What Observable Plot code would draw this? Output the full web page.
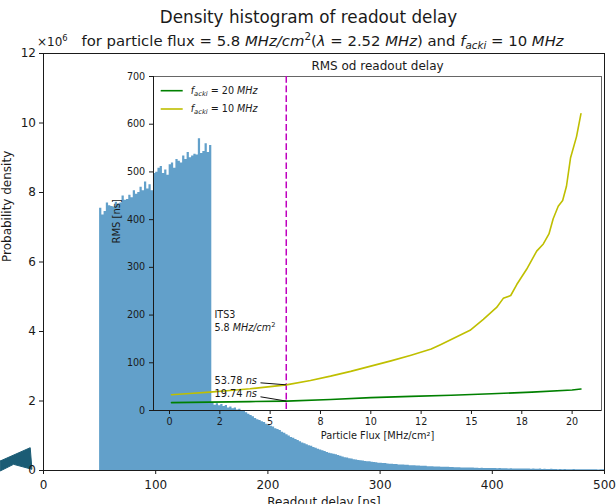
<!DOCTYPE html>
<html><head><meta charset="utf-8">
<script src="https://cdn.jsdelivr.net/npm/d3@7"></script>
<script src="https://cdn.jsdelivr.net/npm/@observablehq/plot@0.6"></script>
<style>
html,body{margin:0;padding:0;background:#fff;}
#chart{position:relative;width:616px;height:504px;overflow:hidden;font-family:"DejaVu Sans",sans-serif;}
#chart svg{position:absolute;left:0;top:0;}
</style></head><body><div id="chart"></div>
<script>
// ---------- main histogram data ----------
const binStartNs = 50;
const binWidthNs = 2;
// probability density per 2 ns bin, in units of 1e6
const densityE6 = [
 7.55, 7.35, 7.45, 7.70, 7.62, 7.60, 7.58, 7.72, 7.66, 7.70,
 7.90, 7.78, 7.80, 7.92, 7.85, 8.05, 7.95, 8.00, 8.15, 8.05,
 8.30, 8.10, 8.22, 8.05, 8.55, 8.58, 8.70, 8.75, 8.55, 8.65,
 8.50, 8.80, 8.85, 8.70, 8.95, 8.90, 8.85, 9.05, 8.95, 9.15,
 9.00, 9.05, 9.10, 9.08, 9.55, 9.12, 9.18, 9.40, 9.15, 9.35,
 1.95, 1.88, 1.92, 1.86, 1.90, 1.84, 1.87, 1.80, 1.83, 1.78,
 1.80, 1.74, 1.76, 1.70, 1.72, 1.66, 1.62, 1.58, 1.55, 1.50,
 1.46, 1.44, 1.40, 1.38, 1.33, 1.30, 1.27, 1.25, 1.20, 1.18,
 1.15, 1.10, 1.07, 1.03, 0.99, 0.95, 0.93, 0.89, 0.86, 0.83,
 0.79, 0.77, 0.74, 0.71, 0.70, 0.66, 0.64, 0.61, 0.59, 0.57,
 0.55, 0.52, 0.50, 0.48, 0.47, 0.45, 0.43, 0.41, 0.39, 0.37,
 0.36, 0.34, 0.33, 0.31, 0.30, 0.29, 0.28, 0.27, 0.26, 0.25,
 0.25, 0.24, 0.23, 0.22, 0.21, 0.21, 0.20, 0.20, 0.19, 0.18,
 0.18, 0.17, 0.17, 0.16, 0.16, 0.16, 0.15, 0.15, 0.14, 0.14,
 0.14, 0.13, 0.13, 0.12, 0.12, 0.12, 0.11, 0.11, 0.11, 0.10,
 0.10, 0.10, 0.095, 0.09, 0.09, 0.09, 0.085, 0.085, 0.08, 0.08,
 0.08, 0.075, 0.075, 0.07, 0.07, 0.075, 0.07, 0.065, 0.065, 0.06,
 0.065, 0.06, 0.06, 0.055, 0.06, 0.06, 0.055, 0.05, 0.055, 0.05,
 0.05, 0.05, 0.045, 0.05, 0.045, 0.045, 0.04, 0.045, 0.04, 0.04,
 0.04, 0.04, 0.035, 0.04, 0.035, 0.035, 0.04, 0.03, 0.035, 0.03,
 0.03, 0.035, 0.03, 0.03, 0.025, 0.03, 0.025, 0.03, 0.025, 0.025,
 0.025, 0.03, 0.02, 0.025, 0.02, 0.025, 0.02, 0.02, 0.025, 0.02,
 0.02, 0.02, 0.015, 0.02, 0.02
];
const xTicksNs = [0, 100, 200, 300, 400, 500];
const yTicksE6 = [0, 2, 4, 6, 8, 10, 12];
// stray dark arrow-like shape at the lower-left corner (data units of main axes)
const strayNs  = [-38.6, -11.85, -10.3, -26.7, -38.6, -38.6];
const strayE6  = [0.273, 0.656, 0.035, 0.178, -0.014, 0.273];

// ---------- inset data (RMS vs particle flux) ----------
const fluxF20 = [0.1, 2, 4, 5.8, 8, 10, 12, 14, 16, 18, 20, 20.44];
const rmsF20  = [16.5, 17.5, 18.6, 19.74, 23, 27, 29.5, 32, 35, 38.5, 43, 45];
const fluxF10 = [0.1, 1, 2, 3, 4, 5, 5.8, 7, 8, 9, 10, 11, 12, 13, 13.46, 14.93, 15.59, 16.25, 16.58, 16.95, 17.25, 17.74, 18.24, 18.57, 18.85, 19.06, 19.31, 19.53, 19.72, 19.92, 20.22, 20.44];
const rmsF10  = [33, 35.5, 38.5, 42, 45.5, 50, 53.78, 63, 72, 82, 93, 104, 116, 129, 138, 168, 191, 216, 235, 241, 264, 296, 334, 349, 370, 402, 428, 440, 470, 529, 574, 622];
const fluxDomain = [-0.795, 21.46];
const fluxTicks = [0, 2.5, 5, 7.5, 10, 12.5, 15, 17.5, 20];
const fluxTickLabels = ["0", "2", "5", "8", "10", "12", "15", "18", "20"];
const rmsTicks = [0, 100, 200, 300, 400, 500, 600, 700];
const its3Flux = 5.8;
const annotRms = [53.78, 19.74];
const annotLabelRms = [56.0, 29.3];
const annotTailFlux = 4.52;
const annotTailRms = [58.0, 28.7];
const legendItems = [
  {label: "facki = 20 MHz", color: "#008000"},
  {label: "facki = 10 MHz", color: "#bfbf00"}
];

// ---------- texts ----------
const title1 = "Density histogram of readout delay";
const title2 = "for particle flux = 5.8 MHz/cm²(λ = 2.52 MHz) and facki = 10 MHz";
const rich = {
  "for particle flux = 5.8 MHz/cm²(λ = 2.52 MHz) and facki = 10 MHz":
    [["for particle flux = 5.8 ",""],["MHz/cm","i"],["2","sup"],["(",""],["λ","i"],[" = 2.52 ",""],["MHz","i"],[") and ",""],["f","i"],["acki","isub"],[" = 10 ",""],["MHz","i"]],
  "×10⁶": [["×10",""],["6","sup"]],
  "53.78 ns": [["53.78 ",""],["ns","i"]],
  "19.74 ns": [["19.74 ",""],["ns","i"]],
  "5.8 MHz/cm²": [["5.8 ",""],["MHz/cm","i"],["2","sup"]],
  "facki = 20 MHz": [["f","i"],["acki","isub"],[" = 20 ",""],["MHz","i"]],
  "facki = 10 MHz": [["f","i"],["acki","isub"],[" = 10 ",""],["MHz","i"]]
};

function fillRich(t, segs, fs) {
  while (t.firstChild) t.removeChild(t.firstChild);
  let shift = 0;
  for (const [s, st] of segs) {
    const ts = document.createElementNS("http://www.w3.org/2000/svg", "tspan");
    let target = 0;
    if (st === "sup") target = -0.38 * fs;
    if (st === "sub" || st === "isub") target = 0.22 * fs;
    const dy = target - shift;
    if (dy !== 0) ts.setAttribute("dy", dy.toFixed(2));
    shift = target;
    if (st === "i" || st === "isub") ts.setAttribute("font-style", "italic");
    if (st === "sup" || st === "sub" || st === "isub") ts.setAttribute("font-size", (0.7 * fs).toFixed(2));
    ts.textContent = s;
    t.appendChild(ts);
  }
}
function richify(svg) {
  svg.querySelectorAll("text").forEach(t => {
    const key = t.textContent;
    if (rich[key]) {
      const fs = parseFloat(getComputedStyle(t).fontSize);
      fillRich(t, rich[key], fs);
    }
  });
}

const fig = document.getElementById("chart");
const baseStyle = {background: "transparent", fontFamily: "'DejaVu Sans', sans-serif", fontSize: "12px", color: "#1a1a1a", overflow: "visible"};

const histRows = densityE6.map((v, i) => ({start: binStartNs + i * binWidthNs, density: v}));
histRows.push({start: binStartNs + densityE6.length * binWidthNs, density: densityE6[densityE6.length - 1]});

const main = Plot.plot({
  width: 616, height: 504,
  marginLeft: 43, marginRight: 12, marginTop: 53, marginBottom: 34,
  style: baseStyle,
  x: {domain: [0, 500]},
  y: {domain: [0, 12]},
  marks: [
    Plot.areaY(histRows, {x: "start", y: "density", curve: "step-after", fill: "#62a0ca"}),
    Plot.line(strayNs, {x: strayNs, y: strayE6, fill: "#1b5c75", stroke: "#1b5c75", strokeWidth: 1, curve: "linear"}),
    Plot.frame({stroke: "#1a1a1a", strokeWidth: 1}),
    Plot.axisX({ticks: xTicksNs, tickSize: 4, tickPadding: 5.5, fontSize: 12, label: null, tickFormat: d => String(d)}),
    Plot.axisY({ticks: yTicksE6, tickSize: 4, tickPadding: 3.5, fontSize: 12, label: null, tickFormat: d => String(d)}),
    Plot.text([title1], {text: d => d, frameAnchor: "top", dx: -15.5, dy: -31, lineAnchor: "bottom", fontSize: 16.8}),
    Plot.text([title2], {text: d => d, frameAnchor: "top", dx: -1.5, dy: -8, lineAnchor: "bottom", fontSize: 14.85}),
    Plot.text(["×10⁶"], {text: d => d, frameAnchor: "top-left", textAnchor: "start", dx: -6.5, dy: -8, lineAnchor: "bottom", fontSize: 12}),
    Plot.text(["Probability density"], {text: d => d, frameAnchor: "left", rotate: -90, dx: -36.5, fontSize: 12}),
    Plot.text(["Readout delay [ns]"], {text: d => d, frameAnchor: "bottom", lineAnchor: "top", dy: 27, fontSize: 12})
  ]
});
fig.appendChild(main);

const inset = Plot.plot({
  width: 616, height: 504,
  marginLeft: 153, marginRight: 15, marginTop: 76, marginBottom: 94,
  style: baseStyle,
  x: {domain: fluxDomain},
  y: {domain: [0, 700]},
  marks: [
    Plot.frame({stroke: "#666", strokeWidth: 1}),
    Plot.ruleY([0], {stroke: "#1a1a1a", strokeWidth: 1}),
    Plot.ruleX([fluxDomain[0]], {stroke: "#1a1a1a", strokeWidth: 1}),
    Plot.ruleX([its3Flux], {stroke: "#bf00bf", strokeWidth: 1.5, strokeDasharray: "6.7,2.9"}),
    Plot.line(fluxF20, {x: fluxF20, y: rmsF20, stroke: "#008000", strokeWidth: 1.6}),
    Plot.line(fluxF10, {x: fluxF10, y: rmsF10, stroke: "#bfbf00", strokeWidth: 1.6}),
    Plot.link(annotRms, {x1: annotTailFlux, y1: (d, i) => annotTailRms[i], x2: its3Flux, y2: d => d, stroke: "#111", strokeWidth: 1}),
    Plot.text(annotRms, {x: its3Flux, y: (d, i) => annotLabelRms[i], text: d => `${d} ns`, dx: -71.8, textAnchor: "start", lineAnchor: "bottom", fontSize: 9.8}),
    Plot.text(["ITS3"], {text: d => d, x: its3Flux, y: 0, dx: -71.8, dy: -93, textAnchor: "start", lineAnchor: "bottom", fontSize: 9.6}),
    Plot.text(["5.8 MHz/cm²"], {text: d => d, x: its3Flux, y: 0, dx: -71.8, dy: -80, textAnchor: "start", lineAnchor: "bottom", fontSize: 9.6}),
    Plot.axisX({ticks: fluxTicks, tickSize: 4, tickPadding: 4, fontSize: 9.6, label: null, tickFormat: d => fluxTickLabels[fluxTicks.indexOf(d)]}),
    Plot.axisY({ticks: rmsTicks, tickSize: 4, tickPadding: 4.3, fontSize: 9.6, label: null, tickFormat: d => String(d)}),
    Plot.text(["RMS od readout delay"], {text: d => d, frameAnchor: "top", dy: -6.5, lineAnchor: "bottom", fontSize: 12}),
    Plot.text(["Particle Flux [MHz/cm²]"], {text: d => d, frameAnchor: "bottom", dy: 28.5, lineAnchor: "bottom", fontSize: 9.8}),
    Plot.text(["RMS [ns]"], {text: d => d, frameAnchor: "left", rotate: -90, dx: -36.3, fontSize: 10})
  ]
});
fig.appendChild(inset);

// legend (inside inset, upper-left)
const lg = d3.select(inset).append("g")
  .attr("font-family", "'DejaVu Sans', sans-serif").attr("font-size", 9.6).attr("fill", "#1a1a1a");
legendItems.forEach((it, i) => {
  const y = 90.7 + i * 18.3;
  lg.append("line").attr("x1", 160.7).attr("x2", 182.7).attr("y1", y).attr("y2", y)
    .attr("stroke", it.color).attr("stroke-width", 1.6);
  lg.append("text").attr("x", 190.7).attr("y", y + 3.3).attr("text-anchor", "start").text(it.label);
});

richify(main);
richify(inset);
</script></body></html>
